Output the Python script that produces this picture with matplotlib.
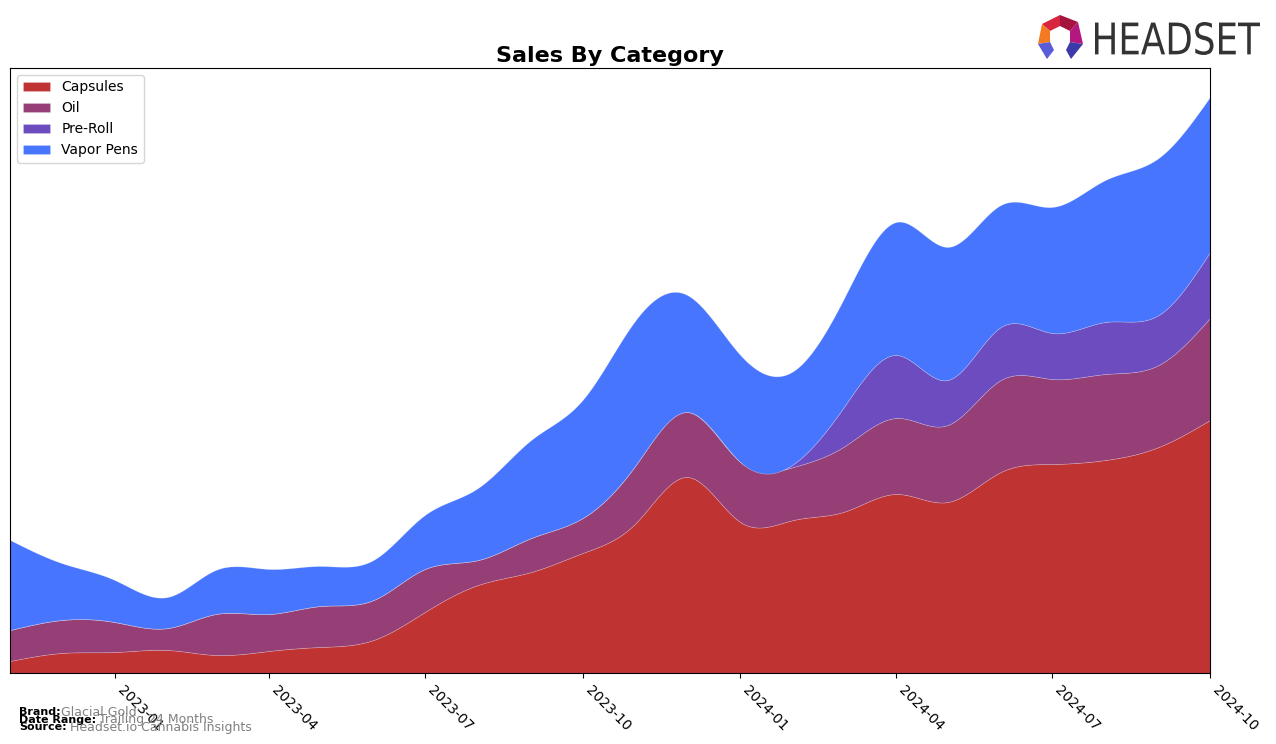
import matplotlib
matplotlib.use("Agg")
import matplotlib.pyplot as plt
import matplotlib.dates as mdates
from matplotlib.patches import Polygon, PathPatch
from matplotlib.textpath import TextPath
from matplotlib.font_manager import FontProperties
from matplotlib.transforms import Affine2D
import numpy as np
import pandas as pd

# monthly sales by category (relative units)
months = pd.date_range("2022-11-01", "2024-10-01", freq="MS")
capsules = [12, 20, 21, 23, 18, 22, 26, 33, 61, 88, 101, 120,
            150, 196, 151, 153, 161, 179, 171, 201, 209, 213, 226, 253]
oil = [31, 33, 30, 22, 41, 37, 41, 40, 43, 25, 34, 35,
       58, 65, 60, 53, 65, 76, 77, 92, 85, 86, 82, 102]
pre_roll = [0, 0, 0, 0, 0, 0, 0, 0, 0, 0, 0, 0,
            0, 0, 0, 3, 39, 63, 45, 53, 46, 52, 50, 66]
vapor_pens = [90, 57, 42, 31, 44, 45, 40, 40, 54, 72, 98, 118,
              145, 117, 107, 93, 108, 133, 133, 122, 126, 142, 157, 155]

labels = ["Capsules", "Oil", "Pre-Roll", "Vapor Pens"]
colors = ["#C03333", "#963F77", "#6D4CBF", "#4775FE"]


def spline(x, y, xs):
    # natural cubic spline, just for drawing smooth curves
    x = np.asarray(x, float)
    y = np.asarray(y, float)
    n = len(x)
    h = np.diff(x)
    A = np.zeros((n, n))
    b = np.zeros(n)
    A[0, 0] = A[-1, -1] = 1
    for i in range(1, n - 1):
        A[i, i - 1] = h[i - 1]
        A[i, i] = 2 * (h[i - 1] + h[i])
        A[i, i + 1] = h[i]
        b[i] = 6 * ((y[i + 1] - y[i]) / h[i] - (y[i] - y[i - 1]) / h[i - 1])
    M = np.linalg.solve(A, b)
    idx = np.clip(np.searchsorted(x, xs) - 1, 0, n - 2)
    x0, x1 = x[idx], x[idx + 1]
    hh = x1 - x0
    t0, t1 = x1 - xs, xs - x0
    return (M[idx] * t0 ** 3 / (6 * hh) + M[idx + 1] * t1 ** 3 / (6 * hh)
            + (y[idx] / hh - M[idx] * hh / 6) * t0
            + (y[idx + 1] / hh - M[idx + 1] * hh / 6) * t1)


xnum = mdates.date2num(months)
xs = np.linspace(xnum[0], xnum[-1], 600)
series = [spline(xnum, s, xs) for s in [capsules, oil, pre_roll, vapor_pens]]

fig = plt.figure(figsize=(12.76, 7.44), dpi=100)
ax = fig.add_axes([10 / 1276, 1 - 673 / 744, 1200 / 1276, 605 / 744])

ax.stackplot(xs, series, labels=labels, colors=colors,
             edgecolor=(1, 1, 1, 0.25), linewidth=0.5)

ax.set_xlim(xnum[0], xnum[-1])
ax.set_ylim(0, 605)
ax.set_yticks([])
ticks = pd.date_range("2023-01-01", "2024-10-01", freq="3MS")
ax.set_xticks(mdates.date2num(ticks))
ax.set_xticklabels([d.strftime("%Y-%m") for d in ticks], rotation=-45,
                   ha="left", fontsize=10)
ax.set_title("Sales By Category", fontsize=16, fontweight="bold", pad=4)
ax.legend(loc="upper left", fontsize=10)

# footer
fig.text(19 / 1276, 1 - 712 / 744, "Brand:", fontsize=8, fontweight="bold", va="center")
fig.text(61 / 1276, 1 - 712 / 744, "Glacial Gold", fontsize=9, color="gray", va="center")
fig.text(19 / 1276, 1 - 720 / 744, "Date Range:", fontsize=8, fontweight="bold", va="center")
fig.text(99 / 1276, 1 - 720 / 744, "Trailing 24 Months", fontsize=9, color="gray", va="center")
fig.text(19 / 1276, 1 - 727 / 744, "Source:", fontsize=8, fontweight="bold", va="center")
fig.text(70 / 1276, 1 - 727 / 744, "Headset.io Cannabis Insights", fontsize=9, color="gray", va="center")

# logo
lax = fig.add_axes([0, 0, 1, 1], zorder=5)
lax.set_xlim(0, 1276)
lax.set_ylim(744, 0)
lax.axis("off")
facets = [
    ([(1042, 24), (1060, 15), (1060, 26), (1050, 31)], "#D7263D"),
    ([(1060, 15), (1078, 22), (1070, 31), (1060, 26)], "#A5133F"),
    ([(1042, 24), (1050, 31), (1050, 42), (1038, 44)], "#F47A20"),
    ([(1078, 22), (1083, 44), (1070, 42), (1070, 31)], "#B5177E"),
    ([(1038, 44), (1050, 42), (1054, 50), (1047, 59)], "#5A5BD8"),
    ([(1083, 44), (1070, 42), (1066, 50), (1071, 59)], "#3B3AA8"),
]
for pts, c in facets:
    lax.add_patch(Polygon(pts, closed=True, facecolor=c, edgecolor="none"))

tp = TextPath((0, 0), "HEADSET", size=40, prop=FontProperties(family="DejaVu Sans"))
bb = tp.get_extents()
sx = (1260 - 1095) / bb.width
sy = (55 - 22) / bb.height
tr = Affine2D().translate(-bb.x0, -bb.y0).scale(sx, -sy).translate(1095, 55)
lax.add_patch(PathPatch(tr.transform_path(tp), facecolor="#333333", edgecolor="none"))

fig.savefig("out.png", dpi=100)
